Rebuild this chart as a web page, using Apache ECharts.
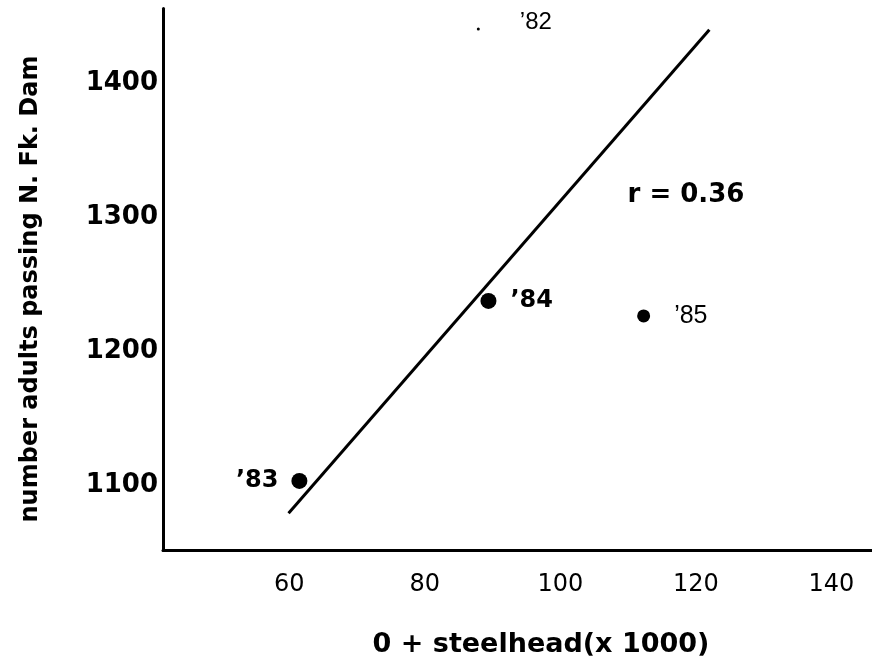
<!DOCTYPE html>
<html>
<head>
<meta charset="utf-8">
<script src="https://cdn.jsdelivr.net/npm/echarts@6/dist/echarts.min.js"></script>
<style>
  html, body { margin: 0; padding: 0; background: #fff; }
  #chart { width: 872px; height: 666px; }
</style>
</head>
<body>
<div id="chart"></div>
<script>
// ---- data ----
const yearLabels = ['\u201982', '\u201983', '\u201984', '\u201985'];
const steelhead = [87.9, 61.5, 89.4, 112.3];        // x (x 1000)
const adults = [1440.6, 1103, 1237.5, 1226.3];      // y
const fitX = [59.9, 122.0];
const fitY = [1078.8, 1440.1];
const xTickValues = [60, 80, 100, 120, 140];
const yTickValues = [1100, 1200, 1300, 1400];
const rText = 'r = 0.36';
const xTitle = '0 + steelhead(x 1000)';
const yTitle = 'number adults passing N. Fk. Dam';

// ---- styles per point (kept apart from data) ----
const pointStyles = [
  { size: 3,  pos: 'right', dist: 40, font: 'Liberation Sans', weight: 'normal', fs: 24, offset: [0, -7] },
  { size: 16, pos: 'left',  dist: 13, font: 'DejaVu Sans', weight: 'bold', fs: 24, offset: [0, 0] },
  { size: 16, pos: 'right', dist: 14, font: 'DejaVu Sans', weight: 'bold', fs: 24, offset: [0, 0] },
  { size: 13, pos: 'right', dist: 24, font: 'Liberation Sans', weight: 'normal', fs: 25, offset: [0, 0] }
];

const scatterData = steelhead.map((x, i) => {
  const s = pointStyles[i];
  return {
    value: [x, adults[i]],
    symbolSize: s.size,
    itemStyle: { color: '#000', opacity: 1 },
    label: {
      show: true,
      formatter: yearLabels[i],
      position: s.pos,
      distance: s.dist,
      offset: s.offset,
      color: '#000',
      opacity: 1,
      fontFamily: s.font,
      fontWeight: s.weight,
      fontSize: s.fs
    }
  };
});

const fitData = fitX.map((x, i) => [x, fitY[i]]);

const chart = echarts.init(document.getElementById('chart'), null, { renderer: 'canvas' });
chart.setOption({
  animation: false,
  backgroundColor: '#fff',
  grid: { left: 163, right: 0, top: 8.5, bottom: 115.5, containLabel: false, outerBoundsMode: 'none' },
  xAxis: {
    type: 'value',
    min: 41.37,
    max: 146,
    axisLine: { show: true, onZero: false, lineStyle: { color: '#000', width: 3 } },
    axisTick: { show: false },
    splitLine: { show: false },
    axisLabel: {
      customValues: xTickValues,
      formatter: v => String(v),
      color: '#000',
      fontFamily: 'DejaVu Sans',
      fontSize: 24,
      margin: 22
    }
  },
  yAxis: {
    type: 'value',
    min: 1051,
    max: 1456,
    axisLine: { show: true, onZero: false, lineStyle: { color: '#000', width: 3 } },
    axisTick: { show: false },
    splitLine: { show: false },
    axisLabel: {
      customValues: yTickValues,
      formatter: v => String(v),
      color: '#000',
      fontFamily: 'DejaVu Sans',
      fontWeight: 'bold',
      fontSize: 26,
      margin: 5
    }
  },
  series: [
    {
      type: 'line',
      data: fitData,
      showSymbol: false,
      symbol: 'none',
      silent: true,
      lineStyle: { color: '#000', width: 3, opacity: 1 },
      z: 2
    },
    {
      type: 'scatter',
      data: scatterData,
      itemStyle: { color: '#000', opacity: 1 },
      emphasis: { disabled: true },
      z: 3
    }
  ],
  graphic: [
    {
      type: 'text',
      x: 686, y: 195,
      style: { text: rText, fill: '#000', font: 'bold 26px "DejaVu Sans"', textAlign: 'center', textVerticalAlign: 'middle' }
    },
    {
      type: 'text',
      x: 541, y: 645,
      style: { text: xTitle, fill: '#000', font: 'bold 27px "DejaVu Sans"', textAlign: 'center', textVerticalAlign: 'middle' }
    },
    {
      type: 'text',
      x: 31, y: 289,
      rotation: Math.PI / 2,
      style: { text: yTitle, fill: '#000', font: 'bold 24px "DejaVu Sans"', textAlign: 'center', textVerticalAlign: 'middle' }
    }
  ]
});
</script>
</body>
</html>
